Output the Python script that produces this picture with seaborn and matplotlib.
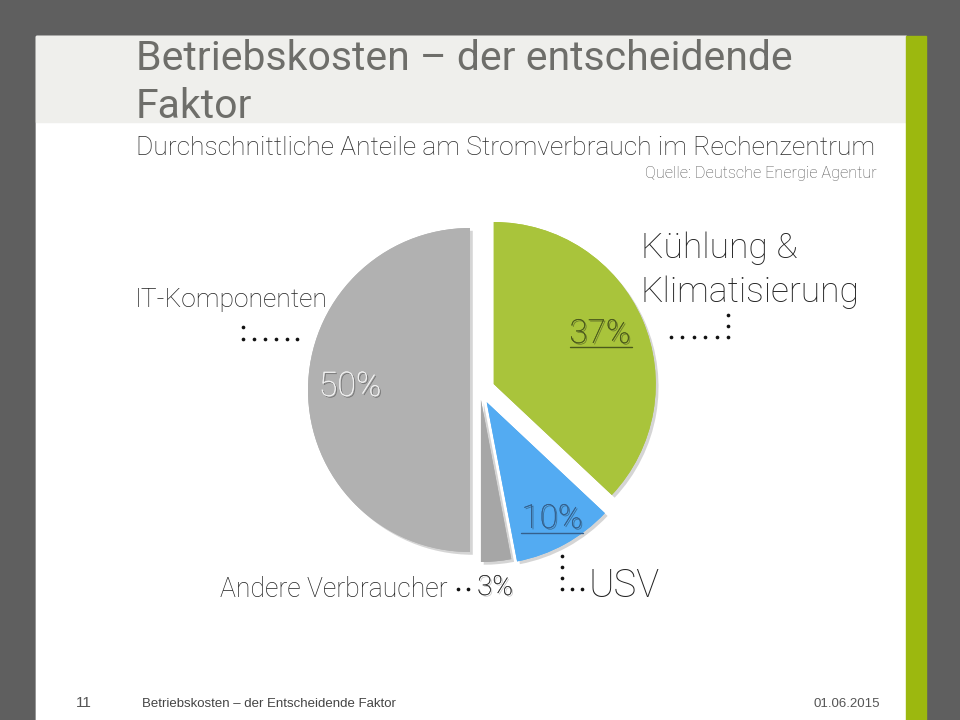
import matplotlib
matplotlib.use('Agg')
import matplotlib.pyplot as plt
import matplotlib.patheffects as pe
from matplotlib.patches import Rectangle
import seaborn as sns

# data
segments = ['Kühlung & Klimatisierung', 'USV', 'Andere Verbraucher', 'IT-Komponenten']
shares = [37, 10, 3, 50]
pct_labels = ['37%', '10%', '3%', '50%']
slice_colors = ['#a9c43b', '#53abf2', '#a6a6a6', '#b1b1b1']
explode = [15, 14, 10, 10]

title_lines = ['Betriebskosten – der entscheidende', 'Faktor']
subtitle = 'Durchschnittliche Anteile am Stromverbrauch im Rechenzentrum'
source = 'Quelle: Deutsche Energie Agentur'
footer_page = '11'
footer_text = 'Betriebskosten – der Entscheidende Faktor'
footer_date = '01.06.2015'

sns.set_theme(style='white')
plt.rcParams['font.family'] = ['Roboto', 'DejaVu Sans']

fig = plt.figure(figsize=(9.6, 7.2), dpi=100, facecolor='#5f5f5f')
ax = fig.add_axes([0, 0, 1, 1])


def Y(y):
    # pixel row (from top) -> data y
    return 720 - y


# slide background
ax.add_patch(Rectangle((36, 0), 870, Y(36), color='white', zorder=0,
                       path_effects=[pe.withSimplePatchShadow(offset=(3, -3), alpha=0.5), pe.Normal()]))
ax.add_patch(Rectangle((36, Y(122)), 870, 86, color='#efefec', zorder=0.5))
ax.add_patch(Rectangle((906, 0), 20, Y(36), color='#9cb80f', zorder=0.5))

# pie
wedges, _ = ax.pie(shares, colors=slice_colors, explode=explode, startangle=90,
                   counterclock=False, center=(480, Y(390)), radius=162,
                   wedgeprops=dict(linewidth=0, path_effects=[
                       pe.withSimplePatchShadow(offset=(2, -2), shadow_rgbFace='k', alpha=0.18),
                       pe.Normal()]))
for w in wedges:
    w.set_zorder(2)

ax.set_xlim(0, 960)
ax.set_ylim(0, 720)
ax.set_aspect('equal')
ax.axis('off')

# header texts
ax.text(136, Y(70), title_lines[0], fontsize=29.5, color='#6e6e6a', va='baseline')
ax.text(136, Y(118), title_lines[1], fontsize=29.5, color='#6e6e6a', va='baseline')
ax.text(136, Y(155), subtitle, fontsize=19, color='#2b2b2b', fontweight='light', va='baseline')
ax.text(877, Y(178), source, fontsize=11.7, color='#555555', fontweight='light', ha='right', va='baseline')

# category labels
ax.text(231, Y(307), segments[3], fontsize=19, color='#222222', fontweight='light', ha='center', va='baseline')
ax.text(641, Y(258), 'Kühlung &', fontsize=25.5, color='#222222', fontweight='light', va='baseline')
ax.text(641, Y(302), 'Klimatisierung', fontsize=25.5, color='#222222', fontweight='light', va='baseline')
ax.text(448, Y(597), segments[2], fontsize=19.2, color='#222222', fontweight='light', ha='right', va='baseline')
ax.text(589, Y(597), segments[1], fontsize=27.5, color='#222222', fontweight='light', va='baseline')

# percentage labels
shadow = [pe.withSimplePatchShadow(offset=(1, -1), shadow_rgbFace='k', alpha=0.4), pe.Normal()]
ax.text(350, Y(396), pct_labels[3], fontsize=24.5, color='#f2f2f2', fontweight='light',
        ha='center', va='baseline', path_effects=shadow, zorder=5)
ax.text(600, Y(343), pct_labels[0], fontsize=24, color='#4b5a1c', fontweight='light',
        ha='center', va='baseline', path_effects=shadow, zorder=5)
ax.plot([570, 632], [Y(347), Y(347)], color='#4b5a1c', lw=1, zorder=5)
ax.text(552, Y(528), pct_labels[1], fontsize=24, color='#35608c', fontweight='light',
        ha='center', va='baseline', path_effects=shadow, zorder=5)
ax.plot([521, 583], [Y(533), Y(533)], color='#35608c', lw=1, zorder=5)
ax.text(495, Y(595), pct_labels[2], fontsize=20, color='#333333', fontweight='light',
        ha='center', va='baseline',
        path_effects=[pe.withSimplePatchShadow(offset=(1, -1), shadow_rgbFace='k', alpha=0.25), pe.Normal()],
        zorder=5)

# dotted connectors
dots_x = [243, 243, 254, 265, 276, 287, 297,
          671, 682, 694, 705, 717, 728, 728, 728,
          458, 468,
          562, 562, 562, 562, 572, 582]
dots_y = [327, 339, 339, 339, 339, 339, 339,
          337, 337, 337, 337, 337, 337, 326, 315,
          589, 589,
          556, 567, 578, 589, 589, 589]
ax.scatter(dots_x, [Y(v) for v in dots_y], s=7, color='#111111', zorder=6, linewidths=0)

# footer
ax.text(84, Y(707), footer_page, fontsize=11, color='#555555', ha='center', va='baseline', family='Liberation Sans')
ax.text(142, Y(707), footer_text, fontsize=9.5, color='#444444', va='baseline', family='Liberation Sans')
ax.text(880, Y(707), footer_date, fontsize=9.5, color='#555555', ha='right', va='baseline', family='Liberation Sans')

fig.savefig('out.png', dpi=100, facecolor=fig.get_facecolor())
